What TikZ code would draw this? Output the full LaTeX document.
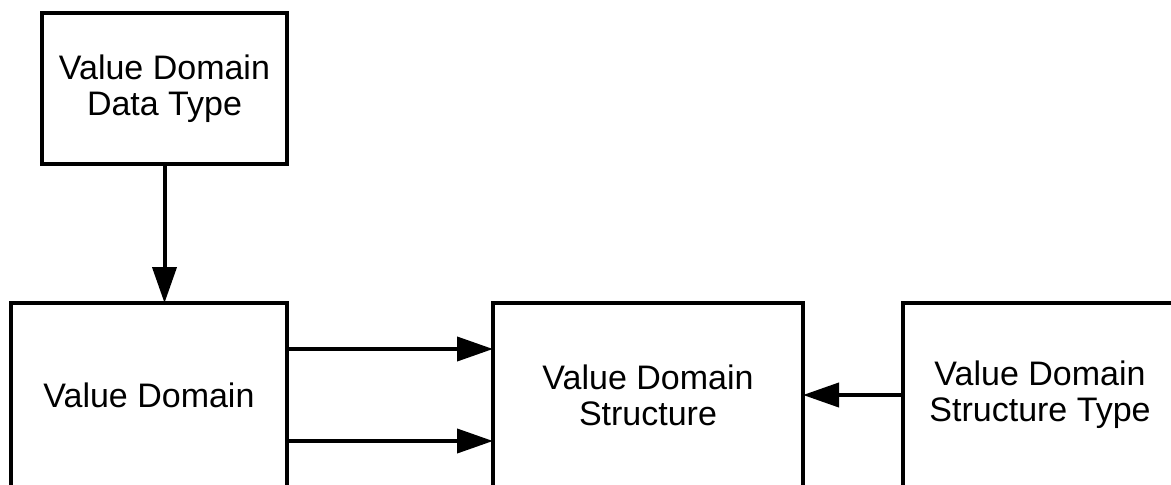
\documentclass[tikz,border=0pt]{standalone}
\usepackage{fontspec}
\setmainfont{Liberation Sans}
\usetikzlibrary{arrows.meta}
\begin{document}
\begin{tikzpicture}[x=1pt,y=-1pt,
  entity/.style={draw, line width=4pt, inner sep=0pt, outer sep=0pt,
    align=center, font=\fontsize{34}{36}\selectfont},
  link/.style={line width=4pt, -{Triangle[length=36pt,width=24pt]}}]
\useasboundingbox (0,0) rectangle (1171,485);
\clip (0,0) rectangle (1171,485);
% entity boxes (lower ones run past the bottom edge)
\node[entity, minimum width=245pt, minimum height=151pt] (dt) at (164.5,88.5)
  {Value Domain\\Data Type};
\node[entity, minimum width=276pt, minimum height=184pt] (vd) at (149,395)
  {Value Domain};
\node[entity, minimum width=310pt, minimum height=184pt] (st) at (648,395)
  {Value Domain\\Structure};
\node[entity, minimum width=274pt, minimum height=184pt] (stt) at (1040,395)
  {Value Domain\\Structure Type};
% connectors
\draw[link] (dt.south) -- (dt.south |- vd.north);
\draw[link] ([yshift=46pt]vd.east) -- ([yshift=46pt]vd.east -| st.west);
\draw[link] ([yshift=-46pt]vd.east) -- ([yshift=-46pt]vd.east -| st.west);
\draw[link] (stt.west) -- (st.east);
\end{tikzpicture}
\end{document}
